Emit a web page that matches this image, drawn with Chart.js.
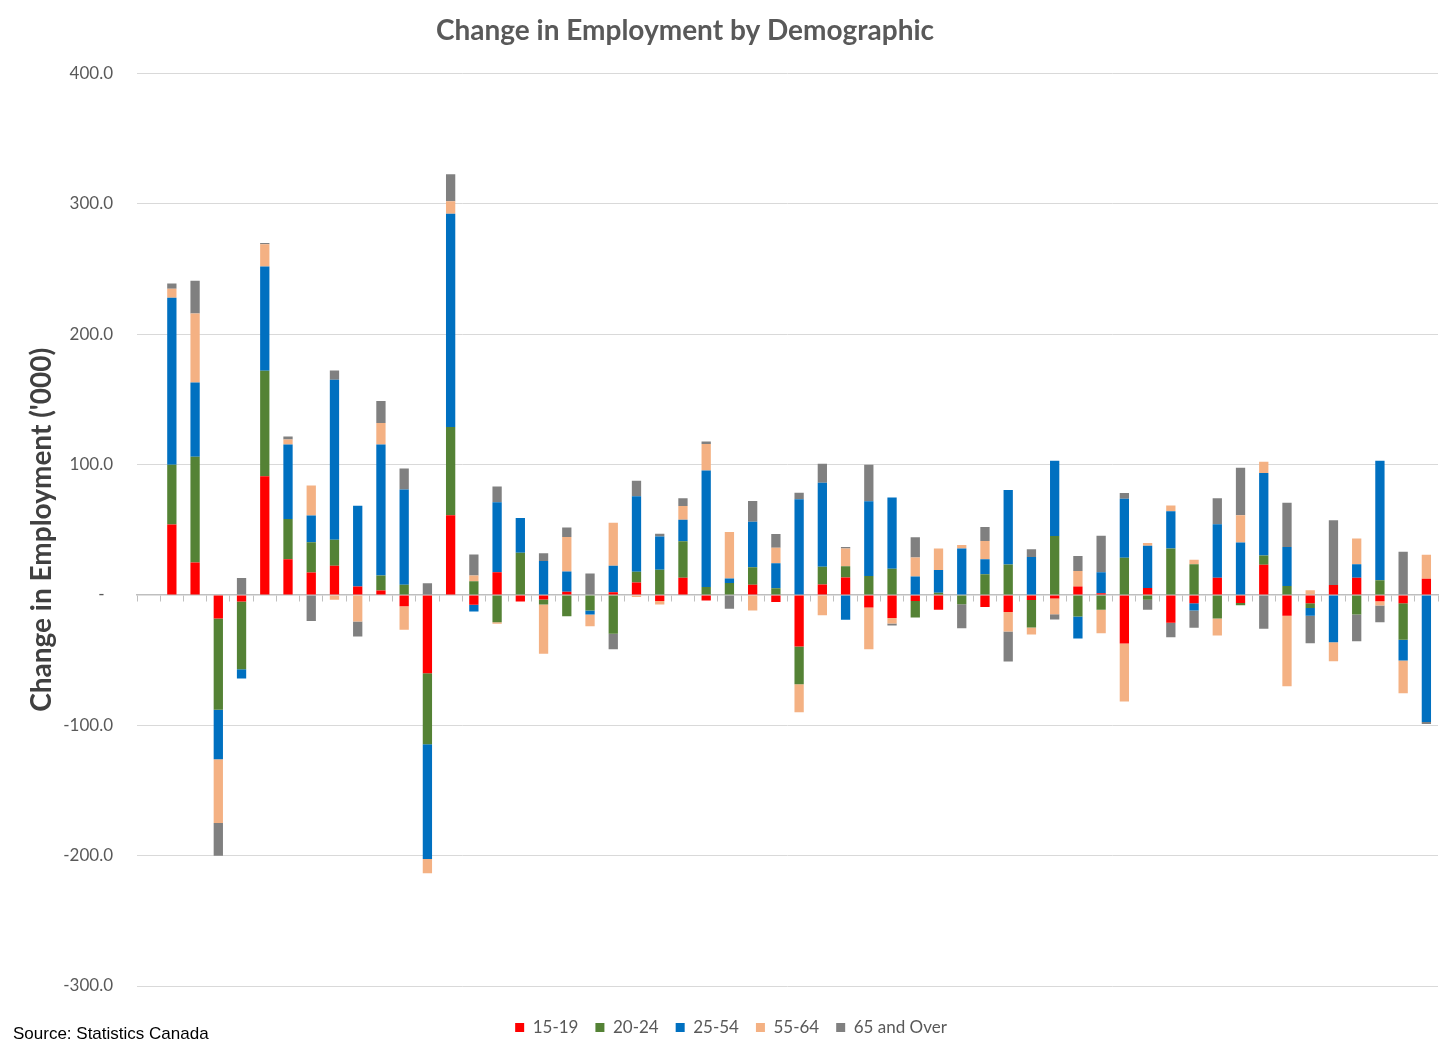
<!DOCTYPE html>
<html>
<head>
<meta charset="utf-8">
<title>Change in Employment by Demographic</title>
<script src="https://cdn.jsdelivr.net/npm/chart.js@4.4.1/dist/chart.umd.min.js"></script>
<style>
  html, body { margin: 0; padding: 0; background: #ffffff; }
  #wrap { position: relative; width: 1456px; height: 1056px; }
  #source { position: absolute; left: 13px; top: 1024px; font-family: "Liberation Sans", Arial, sans-serif; font-size: 17px; color: #000; line-height: 19px; white-space: nowrap; }
</style>
</head>
<body>
<div id="wrap">
  <canvas id="chart"></canvas>
  <div id="source">Source: Statistics Canada</div>
</div>
<script>
const categories = [
  'Jan-21','Feb-21','Mar-21','Apr-21','May-21','Jun-21','Jul-21','Aug-21','Sep-21','Oct-21','Nov-21','Dec-21',
  'Jan-22','Feb-22','Mar-22','Apr-22','May-22','Jun-22','Jul-22','Aug-22','Sep-22','Oct-22','Nov-22','Dec-22',
  'Jan-23','Feb-23','Mar-23','Apr-23','May-23','Jun-23','Jul-23','Aug-23','Sep-23','Oct-23','Nov-23','Dec-23',
  'Jan-24','Feb-24','Mar-24','Apr-24','May-24','Jun-24','Jul-24','Aug-24','Sep-24','Oct-24','Nov-24','Dec-24',
  'Jan-25','Feb-25','Mar-25','Apr-25','May-25','Jun-25','Jul-25','Aug-25'
];

const age15to19 = [null,
  54, 25, -18, -5, 91, 27.5, 17.3, 22.4, 6.5, 3.5, -8.6, -60, 61.2,
  -7.5, 17.5, -5, -3.5, 2.5, 0, 2, 9.6, -4.6, 13.3, -4.3, 0,
  7.9, -5.4, -39.5, 8, 13.4, -9.7, -17.7, -4.6, -11.4, 0, -9.3,
  -13, -3.9, -2.8, 6.5, 1.4, -37.2, 5.3, -21.3, -6.4, 13.2, -6.1,
  23.1, -16, -6.4, 7.7, 13.3, -4.9, -6.4, 12.5];

const age20to24 = [null,
  46, 81, -70, -52, 81, 30.7, 23.2, 20, 0, 11.5, 7.8, -54.5, 67.6,
  10.6, -20.9, 32.4, -3.8, -16.3, -11.9, -29.8, 8.2, 19.3, 27.9, 6.1, 9.2,
  13.4, 5.1, -29, 13.6, 8.7, 14.6, 20.2, -12.7, 1.7, -7.2, 15.9,
  23.3, -21, 45.3, -16.5, -11.4, 28.6, -3.6, 35.6, 23.5, -18, -1.8,
  7.2, 6.9, -3.6, 0, -15, 11.3, -27.9, 0];

const age25to54 = [null,
  128, 57, -38, -7, 80, 57.3, 20.5, 122.8, 62, 100.5, 73.2, -88, 163.7,
  -5.2, 53.7, 26.6, 26, 15.5, -3.1, 20.4, 58, 25.6, 16.6, 89.3, 3.4,
  34.8, 19.2, 73.5, 64.5, -19, 57.3, 54.5, 14.2, 17.5, 35.7, 11.5,
  57.3, 29.1, 57.6, -16.9, 16, 45.3, 32.5, 28.6, -5.6, 41, 40.3,
  63.3, 29.9, -6, -36.3, 10.3, 91.6, -15.9, -97.5];

const age55to64 = [null,
  7, 53, -49, 0, 17, 3.8, 23, -3.7, -20.3, 16.4, -18, -11, 9.5,
  4.4, -1.2, 0, -37.7, 26.4, -9, 33, -1.6, -2.8, 10.5, 20.4, 35.7,
  -12, 12, -21.5, -15.5, 13.5, -32, -4.2, 14.6, 16.5, 2.6, 14,
  -15, -5.4, -12, 11.9, -18, -44.5, 2, 4.4, 3.5, -13, 20.8,
  8.7, -54, 3.7, -14.6, 19.7, -3.1, -25.2, 18.4];

const age65plus = [null,
  4, 25, -25, 13, 1, 2.3, -20, 7, -11.5, 17, 16, 9, 20.7,
  16, 12, 0, 6, 7.4, 16.5, -11.8, 11.8, 2, 6, 2, -10.5,
  16, 10.5, 5, 14.6, 1.2, 28, -1.6, 15.4, 0, -18.4, 10.7,
  -23, 5.9, -4.1, 11.5, 28, 4.4, -7.8, -11.2, -13.2, 20, 36.6,
  -26, 34, -21, 49.7, -20.5, -13, 33.2, -1.5];

const seriesNames = ['15-19', '20-24', '25-54', '55-64', '65 and Over'];
const seriesColors = ['#FF0000', '#548235', '#0070C0', '#F4B183', '#808080'];
const yTickValues = [-300, -200, -100, 0, 100, 200, 300, 400];

const FONT = 'Lato, "Open Sans", "DejaVu Sans", sans-serif';

const seriesData = [age15to19, age20to24, age25to54, age55to64, age65plus];

const datasets = seriesNames.map((name, i) => ({
  label: name,
  data: seriesData[i],
  backgroundColor: seriesColors[i],
  borderWidth: 0,
  barPercentage: 0.4,
  categoryPercentage: 1.0,
  stack: 'all'
}));

const boxShift = {
  id: 'boxShift',
  afterLayout(chart) {
    const t = chart.titleBlock;
    if (t) { t.left -= 34; t.right -= 34; }
    const l = chart.legend;
    if (l) {
      l.left += 12; l.right += 12;
      if (l.legendHitBoxes) l.legendHitBoxes.forEach(h => { h.left += 12; });
    }
  }
};

new Chart(document.getElementById('chart'), {
  type: 'bar',
  data: { labels: categories, datasets },
  plugins: [boxShift],
  options: {
    responsive: true,
    maintainAspectRatio: false,
    animation: false,
    layout: { padding: { left: 0, right: 18, top: 0, bottom: 10 } },
    plugins: {
      title: {
        display: true,
        text: 'Change in Employment by Demographic',
        color: '#595959',
        font: { family: FONT, size: 28, weight: 'bold' },
        padding: { top: 14, bottom: 26 }
      },
      legend: {
        display: true,
        position: 'bottom',
        labels: {
          color: '#595959',
          font: { family: FONT, size: 17 },
          boxWidth: 9,
          boxHeight: 9,
          padding: 17
        }
      },
      tooltip: { enabled: false }
    },
    scales: {
      x: {
        type: 'category',
        stacked: true,
        position: { y: 0 },
        offset: true,
        ticks: { display: false },
        grid: {
          display: true,
          offset: true,
          drawOnChartArea: false,
          drawTicks: true,
          tickLength: 6,
          color: '#bfbfbf',
          lineWidth: 1
        },
        border: { display: true, color: '#bfbfbf', width: 1.5 }
      },
      xb: {
        type: 'category',
        position: 'bottom',
        display: true,
        ticks: { display: false },
        grid: { display: false },
        border: { display: false },
        afterFit(s) { s.height = 16; }
      },
      y: {
        stacked: true,
        min: -300,
        max: 400,
        afterBuildTicks(s) { s.ticks = yTickValues.map(v => ({ value: v })); },
        afterFit(s) { s.width = 137; },
        ticks: {
          color: '#595959',
          font: { family: FONT, size: 17 },
          padding: 24,
          callback: v => (v === 0 ? '-\u2002' : Number(v).toFixed(1))
        },
        grid: { color: '#d9d9d9', lineWidth: 1, drawTicks: false },
        border: { display: false },
        title: {
          display: true,
          text: "Change in Employment ('000)",
          color: '#404040',
          font: { family: FONT, size: 28, weight: 'bold' },
          padding: { top: 25, bottom: 0 }
        }
      }
    }
  }
});
</script>
</body>
</html>
